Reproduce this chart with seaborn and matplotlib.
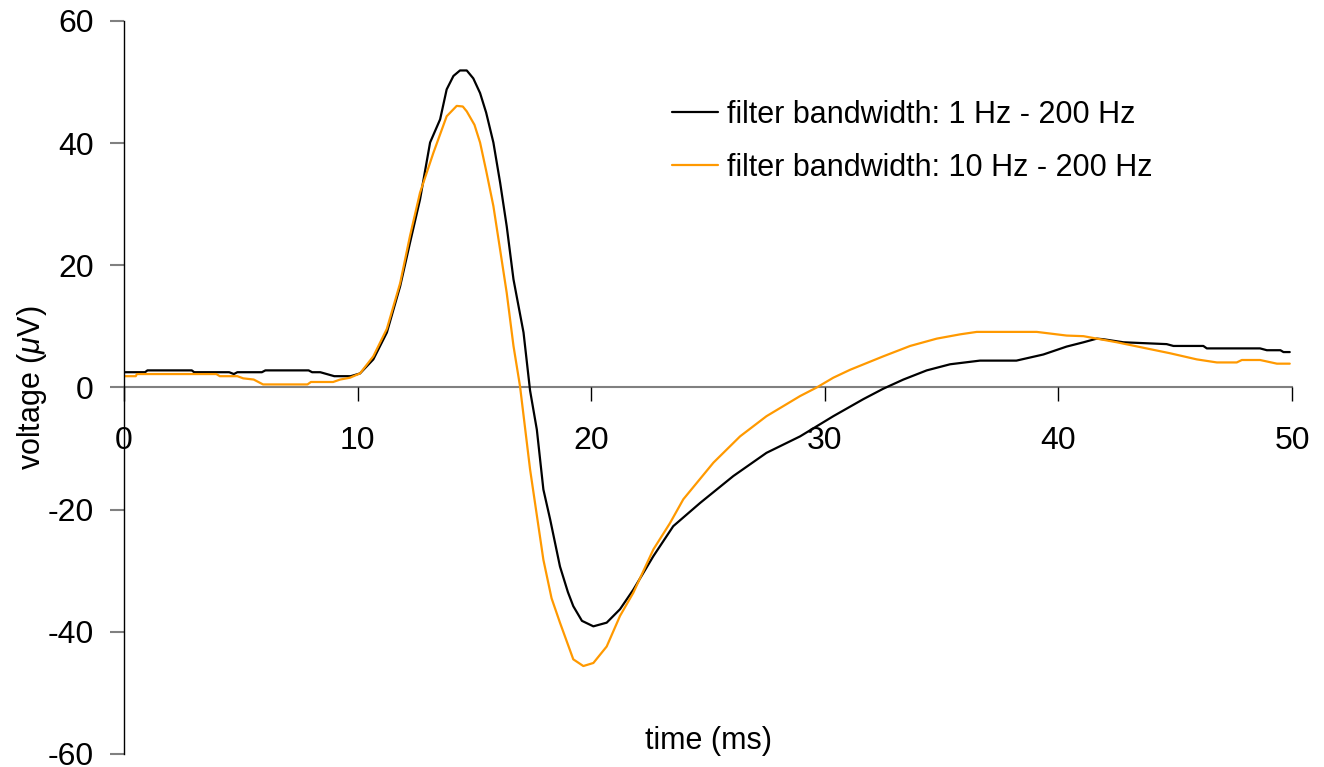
import matplotlib
matplotlib.use('Agg')
import matplotlib.pyplot as plt
import seaborn as sns
import pandas as pd

# values
time_1hz = [0, 0.9, 1.0, 2.9, 3.0, 4.5, 4.7, 4.85, 5.9, 6.05, 7.9, 8.05, 8.4, 9.0, 9.7,
            10.1, 10.67, 11.25, 11.82, 12.24, 12.67, 13.1, 13.53, 13.81, 14.1, 14.38, 14.67,
            14.95, 15.24, 15.5, 15.81, 16.1, 16.38, 16.67, 17.1, 17.38, 17.67, 17.95, 18.24,
            18.66, 19.0, 19.23, 19.6, 20.09, 20.66, 21.23, 21.8, 22.66, 23.51, 24.66, 26.08,
            27.5, 28.94, 30.36, 31.65, 32.5, 33.36, 34.36, 35.36, 36.64, 38.2, 39.35, 40.35,
            41.07, 41.64, 41.92, 42.78, 44.63, 44.92, 46.2, 46.35, 48.63, 48.92, 49.5, 49.63, 49.9]
volt_1hz = [2.5, 2.5, 2.8, 2.8, 2.5, 2.5, 2.2, 2.5, 2.5, 2.8, 2.8, 2.5, 2.5, 1.85, 1.85,
            2.3, 4.6, 9.0, 16.6, 23.7, 30.8, 40.1, 43.9, 48.8, 51.0, 51.9, 51.9,
            50.6, 48.2, 45.0, 40.1, 33.5, 26.4, 17.7, 9.0, -0.5, -6.9, -16.7, -21.6,
            -29.3, -33.5, -35.8, -38.2, -39.1, -38.5, -36.3, -33.1, -27.6, -22.7, -18.9, -14.5,
            -10.7, -8.0, -4.7, -1.9, -0.2, 1.3, 2.8, 3.8, 4.4, 4.4, 5.4, 6.7,
            7.4, 8.0, 7.9, 7.4, 7.1, 6.8, 6.8, 6.4, 6.4, 6.1, 6.1, 5.8, 5.8]

time_10hz = [0, 0.5, 0.55, 3.95, 4.1, 4.85, 5.1, 5.55, 5.95, 7.85, 8.0, 8.95, 9.25, 9.67,
             10.1, 10.67, 11.25, 11.82, 12.24, 12.67, 13.24, 13.81, 14.24, 14.5, 14.67, 15.0,
             15.24, 15.5, 15.81, 16.1, 16.38, 16.67, 16.95, 17.38, 17.95, 18.3, 18.66, 19.23,
             19.66, 20.09, 20.66, 21.23, 21.8, 22.66, 23.37, 23.94, 25.23, 26.37, 27.5, 28.94,
             29.65, 30.36, 31.08, 32.5, 33.65, 34.79, 35.79, 36.5, 39.07, 40.35, 41.07, 41.64,
             42.5, 43.64, 44.78, 45.92, 46.78, 47.63, 47.85, 48.63, 49.35, 49.9]
volt_10hz = [1.85, 1.85, 2.2, 2.2, 1.85, 1.85, 1.5, 1.3, 0.5, 0.5, 0.9, 0.9, 1.3, 1.6,
             2.3, 5.1, 9.6, 17.1, 24.8, 31.9, 38.4, 44.4, 46.1, 46.0, 45.2, 43.0,
             40.1, 35.5, 29.7, 22.5, 15.5, 6.8, 0.2, -13.4, -28.2, -34.5, -38.5, -44.5,
             -45.6, -45.1, -42.4, -37.4, -33.6, -26.5, -22.2, -18.3, -12.3, -8.0, -4.7, -1.4,
             0.0, 1.6, 2.9, 5.1, 6.8, 8.0, 8.7, 9.1, 9.1, 8.5, 8.4, 8.0,
             7.4, 6.5, 5.6, 4.6, 4.1, 4.1, 4.5, 4.5, 3.9, 3.9]

label_1hz = 'filter bandwidth: 1 Hz - 200 Hz'
label_10hz = 'filter bandwidth: 10 Hz - 200 Hz'
x_ticks = [0, 10, 20, 30, 40, 50]
y_ticks = [-60, -40, -20, 0, 20, 40, 60]

df1 = pd.DataFrame({'time': time_1hz, 'voltage': volt_1hz})
df10 = pd.DataFrame({'time': time_10hz, 'voltage': volt_10hz})

sns.set_theme(style='ticks')
plt.rcParams['font.family'] = ['Liberation Sans', 'DejaVu Sans']
plt.rcParams['mathtext.fontset'] = 'custom'
plt.rcParams['mathtext.it'] = 'Liberation Sans:italic'
plt.rcParams['mathtext.rm'] = 'Liberation Sans'
plt.rcParams['axes.unicode_minus'] = False
plt.rcParams['text.color'] = 'black'
plt.rcParams['axes.labelcolor'] = 'black'

fig = plt.figure(figsize=(13.24, 7.67), dpi=100)
ax = fig.add_axes([0.0937, 0.01695, 0.8822, 0.9557])

sns.lineplot(data=df1, x='time', y='voltage', ax=ax, color='black', lw=1.6,
             sort=False, estimator=None, label=label_1hz)
sns.lineplot(data=df10, x='time', y='voltage', ax=ax, color='#FF9900', lw=1.6,
             sort=False, estimator=None, label=label_10hz)

ax.set_xlim(0, 50)
ax.set_ylim(-60, 60)
ax.set_xticks(x_ticks)
ax.set_yticks(y_ticks)

# axes look: x axis drawn through zero
ax.spines['top'].set_visible(False)
ax.spines['right'].set_visible(False)
ax.spines['bottom'].set_position(('data', 0))
ax.spines['bottom'].set_color('#808080')
ax.spines['bottom'].set_linewidth(1.5)
ax.spines['bottom'].set_zorder(0.5)
ax.spines['left'].set_color('black')
ax.spines['left'].set_linewidth(1.0)

ax.tick_params(axis='y', direction='out', length=10, color='#808080', width=1.5,
               labelsize=23, pad=12, labelcolor='black')
ax.tick_params(axis='x', direction='out', length=10, color='black', width=1,
               labelsize=23, pad=18, labelcolor='black')

ax.set_xlabel('time (ms)', fontsize=22)
ax.xaxis.set_label_coords(0.5, 0.038)
ax.set_ylabel(r'voltage ($\mu$V)', fontsize=22)
ax.yaxis.set_label_coords(-0.064, 0.5)

leg = ax.legend(loc='upper left', bbox_to_anchor=(0.469, 0.8926), frameon=False, fontsize=22,
                handlelength=1.5, handletextpad=0.3, labelspacing=0.76,
                borderpad=0, borderaxespad=0)
for txt in leg.get_texts():
    txt.set_color('black')

fig.savefig('out.png', dpi=100)
